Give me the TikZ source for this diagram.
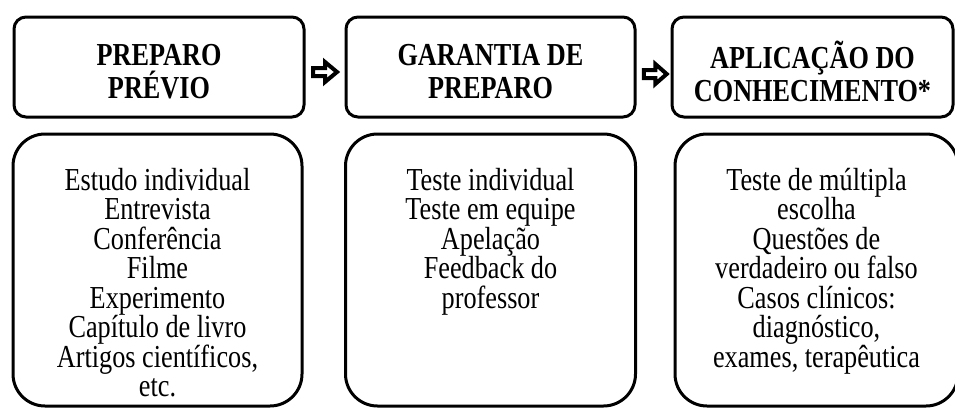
\documentclass[tikz,border=0pt]{standalone}
\usepackage{fontspec}
\setmainfont[FakeStretch=0.82]{Liberation Serif}
\usetikzlibrary{positioning}

\tikzset{
  headbox/.style={draw, line width=3pt, rounded corners=12pt, outer sep=0pt,
    minimum width=290pt, minimum height=100pt},
  headtext/.style={align=center, inner sep=0pt, outer sep=0pt,
    font=\fontsize{32}{32.5}\selectfont\bfseries},
  listbox/.style={draw, line width=3pt, rounded corners=32pt, outer sep=0pt,
    minimum width=289pt, minimum height=272pt},
  listtext/.style={align=center, anchor=north, inner sep=0pt, outer sep=0pt,
    font=\fontsize{32}{29.5}\selectfont},
  blkarrow/.pic={
    \draw [line width=4pt, line join=miter]
      (2,4) -- (14,4) -- (14,10) -- (26,0) -- (14,-10) -- (14,-4) -- (2,-4) -- cycle;
  },
}

\begin{document}
\begin{tikzpicture}
  [x=1pt, y=1pt]
  \useasboundingbox (0,0) rectangle (955,-407);
  % the three steps
  \node [headbox, name=prep] at (159,-67) {};
  \node [headbox, name=gar, right=42pt of prep, minimum width=289pt] {};
  \node [headbox, name=apl, right=37pt of gar, minimum width=281pt] {};
  \node [headtext, name=preph, yshift=-4.5pt] at (prep.center) {PREPARO\\PRÉVIO};
  \node [headtext, name=garh, yshift=-4.5pt] at (gar.center) {GARANTIA DE\\PREPARO};
  \node [headtext, name=aplh, yshift=-4.5pt] at (apl.center) {APLICAÇÃO DO\\CONHECIMENTO*};

  % arrows between the steps
  \coordinate [xshift=7pt, yshift=-5pt] (arr1) at (prep.east);
  \coordinate [xshift=7pt, yshift=-7pt] (arr2) at (gar.east);
  \pic at (arr1) {blkarrow};
  \pic [xscale=0.95] at (arr2) {blkarrow};

  % what goes in each step
  \node [listbox, name=prepl, below=17pt of prep, xshift=-1.5pt] {};
  \node [listbox, name=garl, below=17pt of gar, minimum width=290pt] {};
  \node [listbox, name=apll, below=17pt of apl, xshift=4pt, minimum width=283pt] {};

  \node [listtext, name=prept, below=34pt of prepl.north]
    {Estudo individual\\Entrevista\\Conferência\\Filme\\Experimento\\Capítulo de livro\\Artigos científicos,\\etc.};
  \node [listtext, name=gart, below=34pt of garl.north]
    {Teste individual\\Teste em equipe\\Apelação\\Feedback do\\professor};
  \node [listtext, name=aplt, below=34pt of apll.north]
    {Teste de múltipla\\escolha\\Questões de\\verdadeiro ou falso\\Casos clínicos:\\diagnóstico,\\exames, terapêutica};
\end{tikzpicture}
\end{document}
